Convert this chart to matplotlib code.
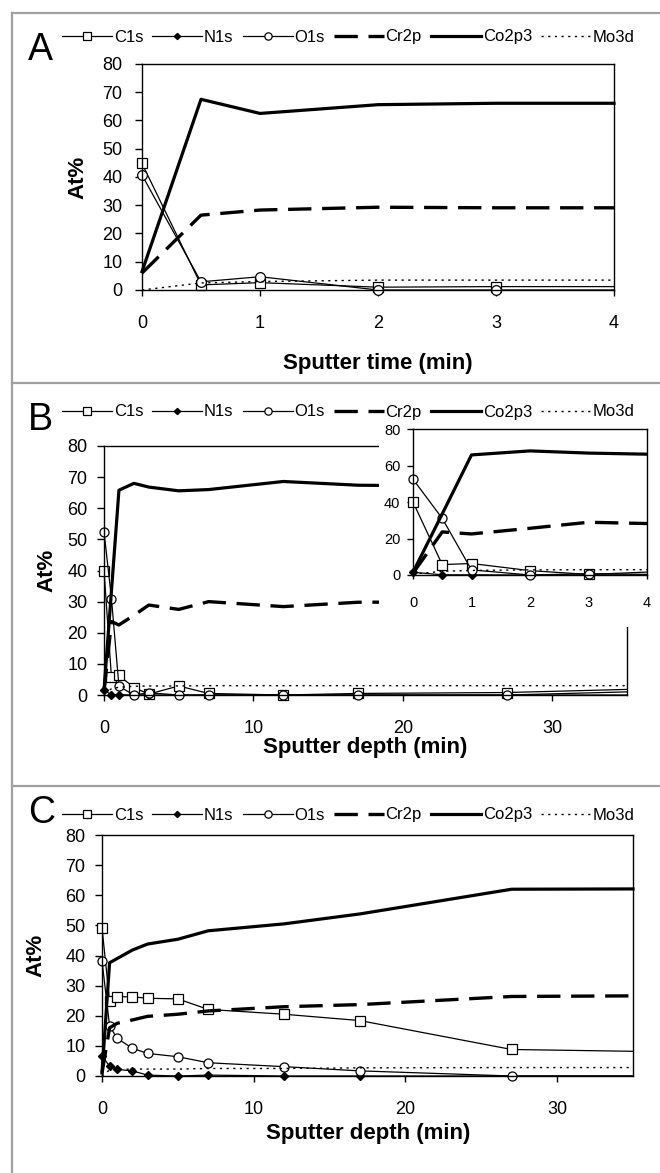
import matplotlib
matplotlib.use('Agg')
import matplotlib.pyplot as plt
from matplotlib.lines import Line2D
from matplotlib.patches import Rectangle
from matplotlib.transforms import Bbox, TransformedBbox

plt.rcParams['font.family'] = ['Liberation Sans', 'DejaVu Sans']

W, H = 660, 1173

series_names = ['C1s', 'N1s', 'O1s', 'Cr2p', 'Co2p3', 'Mo3d']

# ---- Panel A (sputter time, min) ----
a_x = [0, 0.5, 1, 2, 3, 4]
a_c1s = [44.8, 1.8, 2.6, 1.0, 1.2, 1.2]
a_n1s_x = []
a_n1s = []
a_o1s = [40.7, 2.9, 4.7, 0.0, 0.0, 0.0]
a_cr2p = [6.0, 26.5, 28.3, 29.3, 29.1, 29.1]
a_co2p3 = [6.5, 67.5, 62.5, 65.6, 66.1, 66.1]
a_mo3d = [0.0, 2.5, 3.0, 3.5, 3.5, 3.5]

# ---- Panel B (sputter depth, min) ----
b_x = [0, 0.5, 1, 2, 3, 5, 7, 12, 17, 27, 35]
b_c1s = [40.0, 5.7, 6.3, 2.4, 0.3, 2.9, 0.5, 0.0, 0.5, 0.8, 1.8]
b_n1s = [1.5, 0.1, 0.1, 0.0, 0.0, 0.0, 0.0, 0.0, 0.0, 0.0, 1.0]
b_o1s = [52.5, 31.0, 2.8, 0.0, 0.7, 0.0, 0.0, 0.0, 0.0, 0.0, 0.0]
b_cr2p = [1.0, 23.6, 22.5, 25.6, 28.9, 27.5, 30.0, 28.4, 29.8, 30.0, 30.0]
b_co2p3 = [1.5, 33.5, 65.8, 68.0, 66.8, 65.6, 66.0, 68.6, 67.4, 67.0, 66.5]
b_mo3d = [0.5, 2.0, 2.5, 2.8, 2.9, 2.9, 3.0, 3.0, 3.0, 3.0, 3.0]

# ---- Panel C (sputter depth, min) ----
c_x = [0, 0.5, 1, 2, 3, 5, 7, 12, 17, 27, 35]
c_c1s = [49.2, 25.0, 26.3, 26.3, 25.8, 25.6, 22.1, 20.5, 18.4, 8.8, 8.2]
c_n1s = [6.6, 3.3, 2.2, 1.7, 0.3, 0.0, 0.3, 0.0, 0.0, 0.0, 0.0]
c_o1s = [38.2, 16.6, 12.5, 9.2, 7.5, 6.4, 4.4, 3.1, 1.7, 0.0, 0.0]
c_cr2p = [1.0, 16.0, 17.5, 18.6, 19.8, 20.5, 21.6, 23.0, 23.7, 26.4, 26.6]
c_co2p3 = [1.0, 37.6, 39.0, 41.8, 43.8, 45.4, 48.2, 50.5, 53.8, 62.0, 62.1]
c_mo3d = [0.0, 2.0, 2.2, 2.3, 2.3, 2.3, 2.5, 2.5, 2.7, 2.8, 2.8]

y_ticks = [0, 10, 20, 30, 40, 50, 60, 70, 80]
inset_y_ticks = [0, 20, 40, 60, 80]


def fx(px):
    return px / W


def fy(py):
    return 1 - py / H


def rect(left, top, right, bottom):
    return [fx(left), fy(bottom), (right - left) / W, (bottom - top) / H]


def draw(ax, x, c1s, n1s_x, n1s, o1s, cr2p, co2p3, mo3d, ms=6.5, clip=False):
    me = slice(0, -1)  # last (end-of-profile) point carries no marker
    lines = []
    lines += ax.plot(x, c1s, color='k', lw=0.9, marker='s', ms=ms, mfc='white',
                     mec='k', mew=0.9, clip_on=clip, markevery=me)
    lines += ax.plot(n1s_x, n1s, color='k', lw=0.9, marker='D', ms=ms * 0.6,
                     mfc='k', mec='k', clip_on=clip,
                     markevery=me if len(n1s_x) else None)
    lines += ax.plot(x, o1s, color='k', lw=0.9, marker='o', ms=ms, mfc='white',
                     mec='k', mew=0.9, clip_on=clip, markevery=me)
    l, = ax.plot(x, cr2p, color='k', lw=2.4, clip_on=clip)
    l.set_dashes((7, 3.2))
    lines.append(l)
    lines += ax.plot(x, co2p3, color='k', lw=2.3, clip_on=clip)
    l, = ax.plot(x, mo3d, color='k', lw=1.0, clip_on=clip)
    l.set_dashes((1.6, 3.2))
    lines.append(l)
    return lines


def style(ax, xticks, xlim, ytick_pad=7, xtick_pad=14, labelsize=13):
    ax.set_xlim(*xlim)
    ax.set_ylim(0, 80)
    ax.set_xticks(xticks)
    ax.set_yticks(y_ticks)
    for s in ax.spines.values():
        s.set_linewidth(1.0)
    ax.tick_params(axis='both', direction='out', width=1.0, labelsize=labelsize)
    ax.tick_params(axis='y', length=5, pad=ytick_pad)
    ax.tick_params(axis='x', length=4, pad=xtick_pad)


fig = plt.figure(figsize=(W / 100, H / 100), dpi=100)

# Panel A
axA = fig.add_axes(rect(142, 64, 614, 290))
linesA = draw(axA, a_x, a_c1s, a_n1s_x, a_n1s, a_o1s, a_cr2p, a_co2p3, a_mo3d, ms=7)
style(axA, [0, 1, 2, 3, 4], (0, 4), ytick_pad=9)

# Panel B main
axB = fig.add_axes(rect(104, 446, 627, 695))
draw(axB, b_x, b_c1s, b_x, b_n1s, b_o1s, b_cr2p, b_co2p3, b_mo3d, ms=6.5)
style(axB, [0, 10, 20, 30], (0, 35))

# white area behind the inset
fig.add_artist(Rectangle((fx(379), fy(627)), (W - 379) / W, (627 - 438) / H,
                         transform=fig.transFigure, facecolor='white',
                         edgecolor='none', zorder=1))

# Panel B inset
axI = fig.add_axes(rect(413, 429, 647, 575))
axI.set_zorder(3)
linesI = draw(axI, b_x, b_c1s, b_x, b_n1s, b_o1s, b_cr2p, b_co2p3, b_mo3d, ms=6.5, clip=True)
clipbox = TransformedBbox(Bbox([[-0.06, -0.06], [1.0, 1.06]]), axI.transAxes)
for ln in linesI:
    ln.set_clip_box(clipbox)
axI.set_xlim(0, 4)
axI.set_ylim(0, 80)
axI.set_xticks([0, 1, 2, 3, 4])
axI.set_yticks(inset_y_ticks)
for s in axI.spines.values():
    s.set_linewidth(1.0)
axI.tick_params(axis='both', direction='out', width=1.0, labelsize=10.5)
axI.tick_params(axis='y', length=4, pad=5)
axI.tick_params(axis='x', length=3, pad=12)

# Panel C
axC = fig.add_axes(rect(102, 835, 633, 1076))
draw(axC, c_x, c_c1s, c_x, c_n1s, c_o1s, c_cr2p, c_co2p3, c_mo3d, ms=6.5)
style(axC, [0, 10, 20, 30], (0, 35))

# axis labels
lab = dict(fontsize=16, fontweight='bold')
fig.text(fx(378), fy(364), 'Sputter time (min)', ha='center', va='center', **lab)
fig.text(fx(365), fy(748), 'Sputter depth (min)', ha='center', va='center', **lab)
fig.text(fx(368), fy(1133), 'Sputter depth (min)', ha='center', va='center', **lab)
fig.text(fx(78), fy(177), 'At%', rotation=90, ha='center', va='center', **lab)
fig.text(fx(47), fy(570), 'At%', rotation=90, ha='center', va='center', **lab)
fig.text(fx(36), fy(955), 'At%', rotation=90, ha='center', va='center', **lab)

# panel letters
for letter, py in [('A', 60), ('B', 430), ('C', 823)]:
    fig.text(fx(28), fy(py), letter, fontsize=27, ha='left', va='baseline')

# legends
for py in [37, 412, 815]:
    fig.legend(linesA, series_names, loc='center left',
               bbox_to_anchor=(fx(62), fy(py)), ncol=6, frameon=False,
               fontsize=12, handlelength=3.0, handletextpad=0.1,
               columnspacing=0.55, borderpad=0, borderaxespad=0,
               markerscale=0.75)

# gray panel frames
gray = '#a0a0a0'
fig.add_artist(Line2D([fx(12), fx(12)], [0, fy(13)], transform=fig.transFigure,
                      color=gray, lw=1.6))
for py in [13, 383, 786]:
    fig.add_artist(Line2D([fx(12), 1], [fy(py), fy(py)], transform=fig.transFigure,
                          color=gray, lw=1.6))

fig.savefig('out.png', dpi=100)
